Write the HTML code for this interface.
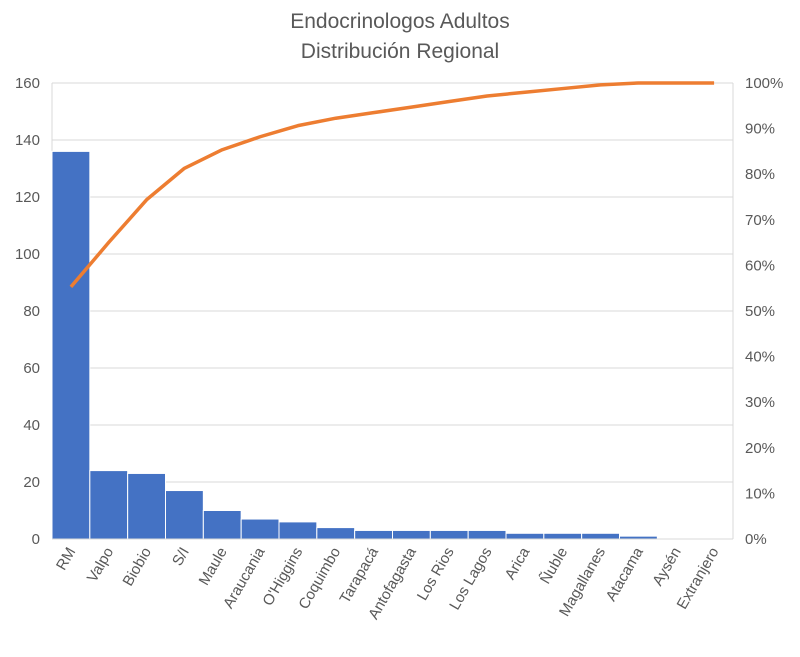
<!DOCTYPE html>
<html><head><meta charset="utf-8"><style>
body{margin:0;background:#fff;}
text{font-family:"Liberation Sans","DejaVu Sans",sans-serif;fill:#595959;}
</style></head><body>
<svg id="s" width="800" height="652" xmlns="http://www.w3.org/2000/svg">
<text x="400" y="28" font-size="21" text-anchor="middle">Endocrinologos Adultos</text>
<text x="400" y="58" font-size="21" text-anchor="middle">Distribución Regional</text>
</svg>
<script>
var s=document.getElementById('s'),ns='http://www.w3.org/2000/svg';
function el(t,a,txt){var e=document.createElementNS(ns,t);for(var k in a)e.setAttribute(k,a[k]);if(txt!=null)e.textContent=txt;s.appendChild(e);return e;}
var L=52,R=733,T=83,B=539;
var names=["RM","Valpo","Biobio","S/I","Maule","Araucania","O'Higgins","Coquimbo","Tarapacá","Antofagasta","Los Rios","Los Lagos","Arica","Ñuble","Magallanes","Atacama","Aysén","Extranjero"];
var v=[136,24,23,17,10,7,6,4,3,3,3,3,2,2,2,1,0,0];
var tot=v.reduce(function(a,b){return a+b},0);
var w=(R-L)/18;
for(var i=0;i<=8;i++){var y=B-(B-T)*i/8;
 el('line',{x1:L,x2:R,y1:y,y2:y,stroke:'#d9d9d9','stroke-width':1});
 el('text',{x:40,y:y+5,'font-size':15,'text-anchor':'end'},String(i*20));
}
for(var i=0;i<=10;i++){var y=B-(B-T)*i/10;el('text',{x:745,y:y+5,'font-size':15},(i*10)+'%');}
el('line',{x1:L,x2:L,y1:T,y2:B,stroke:'#d9d9d9'});
el('line',{x1:R,x2:R,y1:T,y2:B,stroke:'#d9d9d9'});
var pts=[],c=0;
for(var i=0;i<18;i++){
 var x=L+i*w,h=(B-T)*v[i]/160;
 if(v[i]>0)el('rect',{x:x,y:B-h,width:w,height:h,fill:'#4472C4',stroke:'#fff','stroke-width':1});
 c+=v[i];var cx=x+w/2;pts.push(cx+','+(B-(B-T)*c/tot));
 el('text',{x:0,y:0,'font-size':15,'text-anchor':'end',transform:'translate('+(cx+5)+',551) rotate(-60)'},names[i]);
}
el('line',{x1:L,x2:R,y1:B,y2:B,stroke:'#d9d9d9'});
el('polyline',{points:pts.join(' '),fill:'none',stroke:'#ED7D31','stroke-width':3.5,'stroke-linejoin':'round'});
</script>
</body></html>
